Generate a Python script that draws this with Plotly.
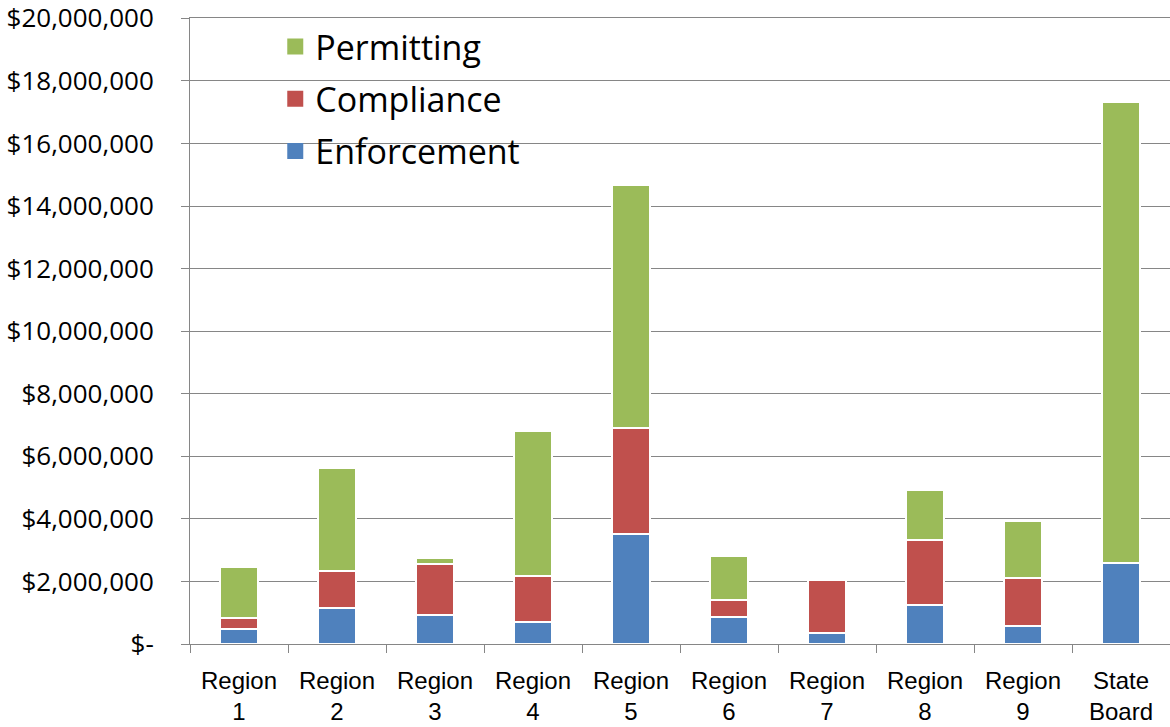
import plotly.graph_objects as go

categories = ["Region<br>1", "Region<br>2", "Region<br>3", "Region<br>4", "Region<br>5",
              "Region<br>6", "Region<br>7", "Region<br>8", "Region<br>9", "State<br>Board"]

enforcement = [490000, 1150000, 930000, 700000, 3520000, 850000, 340000, 1240000, 580000, 2580000]
compliance = [350000, 1190000, 1630000, 1460000, 3370000, 560000, 1720000, 2100000, 1530000, 0]
permitting = [1630000, 3280000, 190000, 4640000, 7770000, 1410000, 0, 1590000, 1830000, 14750000]

series_names = ["Enforcement", "Compliance", "Permitting"]
series_values = [enforcement, compliance, permitting]
series_colors = ["#4F81BD", "#C0504D", "#9BBB59"]

y_tickvals = [0, 2000000, 4000000, 6000000, 8000000, 10000000, 12000000, 14000000,
              16000000, 18000000, 20000000]
y_ticktext = ["$-", "$2,000,000", "$4,000,000", "$6,000,000", "$8,000,000", "$10,000,000",
              "$12,000,000", "$14,000,000", "$16,000,000", "$18,000,000", "$20,000,000"]

fig = go.Figure()
for name, vals, col in zip(series_names, series_values, series_colors):
    fig.add_trace(go.Bar(
        x=categories, y=vals, name=name, width=0.39,
        marker=dict(color=col, line=dict(color="white", width=2)),
        showlegend=False,
    ))
# legend entries with larger square symbols (top to bottom: Permitting, Compliance, Enforcement)
for rank, (name, col) in enumerate(zip(series_names[::-1], series_colors[::-1])):
    fig.add_trace(go.Scatter(
        x=[None], y=[None], mode="markers", name=name, legendgroup=name,
        legendrank=rank + 1,
        marker=dict(symbol="square", size=16, color=col),
        showlegend=True,
    ))

fig.update_layout(
    barmode="stack",
    width=1170, height=727,
    margin=dict(l=190, r=0, t=18, b=83),
    paper_bgcolor="white", plot_bgcolor="white",
    legend=dict(
        x=0.087, y=1.0, xanchor="left", yanchor="top",
        traceorder="grouped", tracegroupgap=5,
        font=dict(family="Open Sans", size=34, color="black"),
        bgcolor="rgba(0,0,0,0)", itemsizing="trace",
    ),
)
fig.update_xaxes(
    type="category", tickson="boundaries", ticks="outside", ticklen=8,
    tickcolor="#868686", showline=True, linecolor="#868686", linewidth=1,
    mirror=True, showgrid=False, ticklabelstandoff=15, automargin=False,
    ticklabeloverflow="allow",
    tickfont=dict(family="Liberation Sans", size=24, color="black"),
)
fig.update_yaxes(
    range=[0, 20010000], tickvals=y_tickvals, ticktext=y_ticktext,
    ticks="outside", ticklen=8, tickcolor="#868686",
    showline=True, linecolor="#868686", linewidth=1,
    showgrid=True, gridcolor="#868686", gridwidth=1, zeroline=False,
    ticklabelstandoff=22, automargin=False, ticklabeloverflow="allow",
    tickfont=dict(family="Open Sans", size=26, color="black"),
)

fig.write_html("out.html", config={"displayModeBar": False},
               post_script="document.body.style.margin='0';")
